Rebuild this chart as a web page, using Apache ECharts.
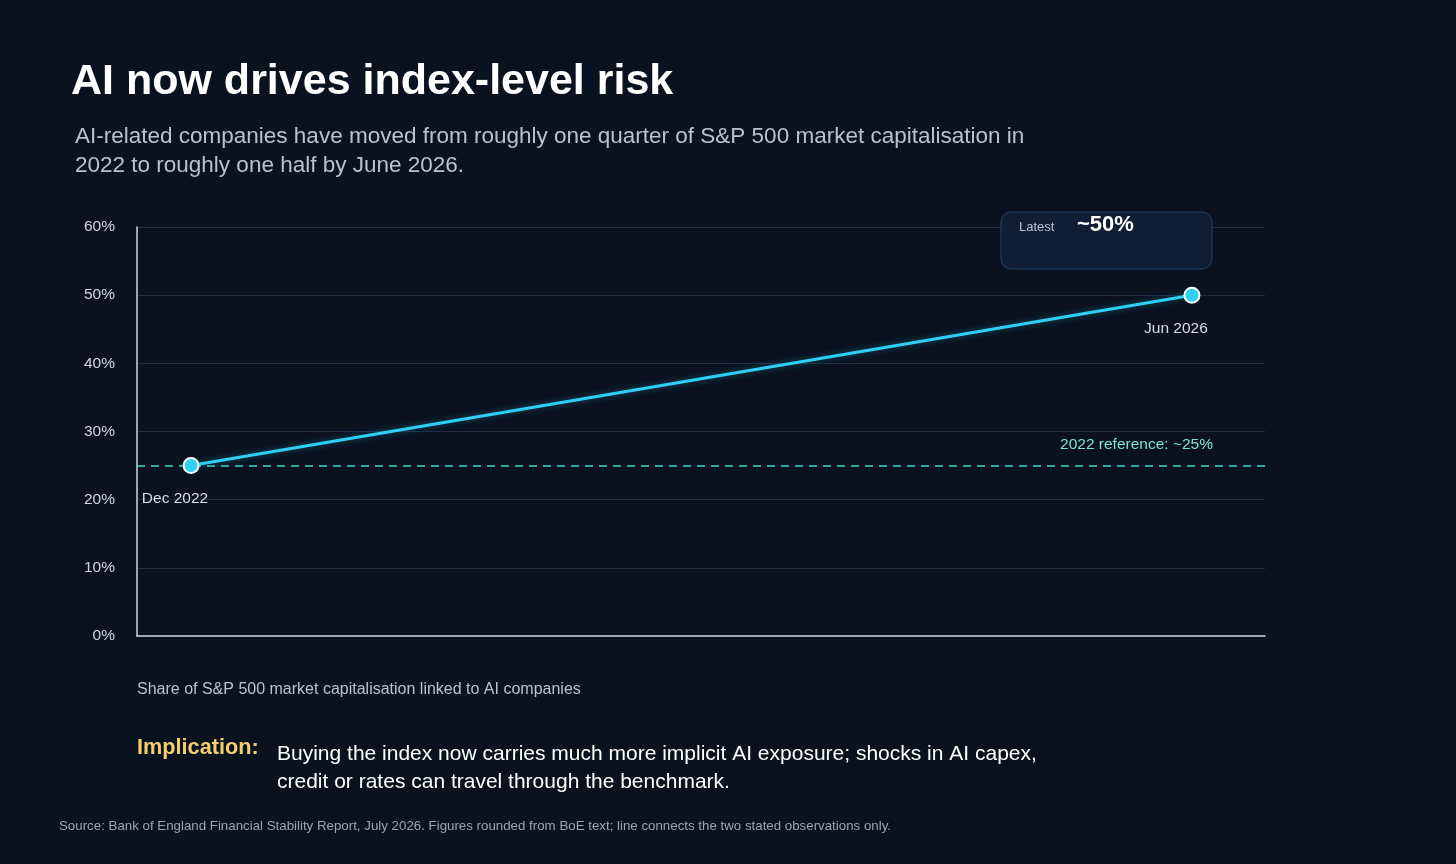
<!DOCTYPE html>
<html>
<head>
<meta charset="utf-8">
<script src="https://cdn.jsdelivr.net/npm/echarts@6/dist/echarts.min.js"></script>
<style>
  html, body { margin: 0; padding: 0; background: #0a1220; }
  #chart { width: 1456px; height: 864px; }
</style>
</head>
<body>
<div id="chart"></div>
<script>
// observations (x position 0 = Dec 2022, 1 = Jun 2026)
var pointLabels = ['Dec 2022', 'Jun 2026'];
var pointX = [0, 1];
var shareValues = [25, 50];
var referenceValue = 25;
var yTicks = [0, 10, 20, 30, 40, 50, 60];

var font = '"Liberation Sans", Arial, sans-serif';
var myChart = echarts.init(document.getElementById('chart'));

var seriesData = pointX.map(function(x, i) {
  return {
    value: [x, shareValues[i]],
    label: {
      show: true,
      formatter: pointLabels[i],
      position: 'bottom',
      offset: i === 0 ? [-16, 12] : [-16, 12],
      color: '#d7dde6',
      fontSize: 15.5,
      fontFamily: font
    }
  };
});

myChart.setOption({
  backgroundColor: '#0a1220',
  grid: { left: 137, right: 191, top: 227, bottom: 228 },
  title: [{
    text: 'AI now drives index-level risk',
    left: 66, top: 56,
    textStyle: { color: '#ffffff', fontSize: 43, fontWeight: 'bold', fontFamily: font }
  }, {
    text: 'AI-related companies have moved from roughly one quarter of S&P 500 market capitalisation in\n2022 to roughly one half by June 2026.',
    left: 70, top: 117,
    textStyle: { color: '#b9c3d0', fontSize: 22.5, lineHeight: 29, fontWeight: 'normal', fontFamily: font }
  }],
  xAxis: {
    type: 'value',
    min: -0.054, max: 1.073,
    axisLine: { show: true, onZero: false, lineStyle: { color: '#cfd6e0', width: 1.5 } },
    axisTick: { show: false },
    axisLabel: { show: false },
    splitLine: { show: false }
  },
  yAxis: {
    type: 'value',
    min: 0, max: 60, interval: 10,
    axisLine: { show: true, onZero: false, lineStyle: { color: '#cfd6e0', width: 1.5 } },
    axisTick: { show: false },
    axisLabel: { formatter: '{value}%', color: '#cfd6e0', fontSize: 15.5, fontFamily: font, margin: 22 },
    splitLine: { lineStyle: { color: '#1e2d44', width: 1 } }
  },
  series: [{
    type: 'line',
    data: seriesData,
    symbol: 'circle',
    symbolSize: 15,
    itemStyle: { color: '#2fd0f5', borderColor: '#ffffff', borderWidth: 2 },
    lineStyle: { color: '#2fd0f5', width: 3, shadowColor: 'rgba(47,208,245,0.35)', shadowBlur: 6 },
    z: 5,
    markLine: {
      silent: true,
      symbol: 'none',
      lineStyle: { color: '#3fd6c4', type: [8, 6], width: 1.5 },
      label: {
        show: true,
        position: 'insideEndTop',
        formatter: '2022 reference: ~25%',
        color: '#7fe3d4',
        fontSize: 15.5,
        fontFamily: font,
        distance: [52, 13]
      },
      data: [{ yAxis: referenceValue }]
    }
  }],
  graphic: [{
    type: 'rect',
    shape: { x: 1001, y: 212, width: 211, height: 57, r: 10 },
    style: { fill: '#0f1e32', stroke: '#23406a', lineWidth: 1 },
    z: 10
  }, {
    type: 'text', left: 1019, top: 221, z: 11,
    style: { text: 'Latest', fill: '#b9c3d0', fontSize: 13, fontFamily: font }
  }, {
    type: 'text', left: 1077, top: 214, z: 11,
    style: { text: '~50%', fill: '#ffffff', fontSize: 22, fontWeight: 'bold', fontFamily: font }
  }, {
    type: 'text', left: 137, top: 682,
    style: { text: 'Share of S&P 500 market capitalisation linked to AI companies', fill: '#b9c3d0', fontSize: 16, fontFamily: font }
  }, {
    type: 'text', left: 137, top: 737,
    style: { text: 'Implication:', fill: '#f2cf6a', fontSize: 21.7, fontWeight: 'bold', fontFamily: font }
  }, {
    type: 'text', left: 277, top: 740,
    style: { text: 'Buying the index now carries much more implicit AI exposure; shocks in AI capex,\ncredit or rates can travel through the benchmark.', fill: '#ffffff', fontSize: 21, lineHeight: 28, fontFamily: font }
  }, {
    type: 'text', left: 59, top: 820,
    style: { text: 'Source: Bank of England Financial Stability Report, July 2026. Figures rounded from BoE text; line connects the two stated observations only.', fill: '#9aa5b4', fontSize: 13.3, fontFamily: font }
  }]
});
</script>
</body>
</html>
